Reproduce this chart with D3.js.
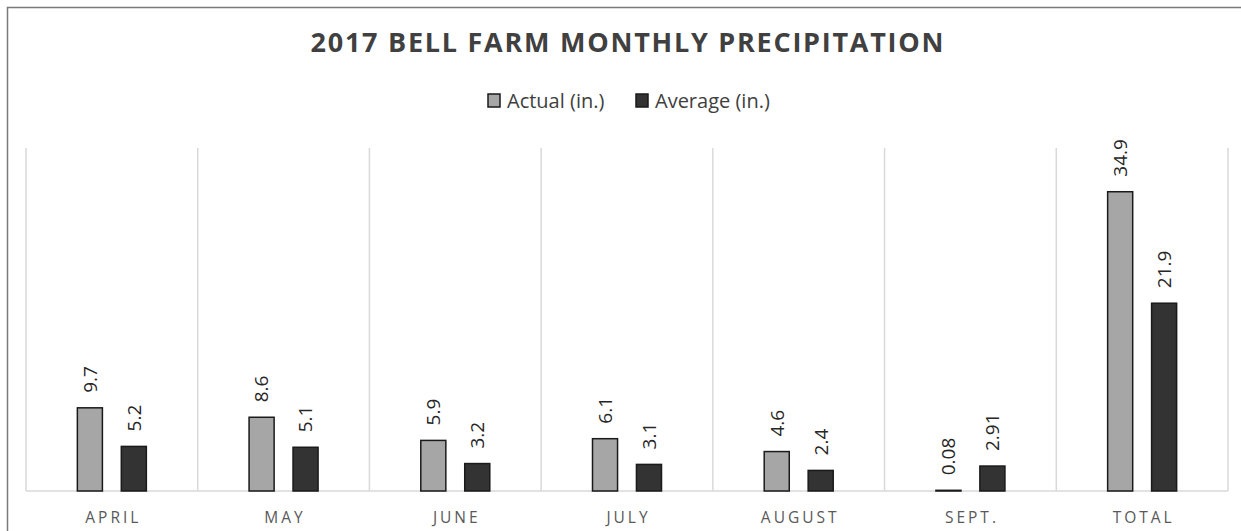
<!DOCTYPE html>
<html>
<head>
<meta charset="utf-8">
<script src="https://cdn.jsdelivr.net/npm/d3@7"></script>
<style>
  html, body { margin: 0; padding: 0; background: #fff; }
  svg { display: block; }
  text { font-family: "Open Sans", "Noto Sans", sans-serif; }
</style>
</head>
<body>
<svg id="chart" width="1241" height="531"></svg>
<script>
const categories = ["APRIL", "MAY", "JUNE", "JULY", "AUGUST", "SEPT.", "TOTAL"];
const seriesNames = ["Actual (in.)", "Average (in.)"];
const actualValues = [9.7, 8.6, 5.9, 6.1, 4.6, 0.08, 34.9];
const averageValues = [5.2, 5.1, 3.2, 3.1, 2.4, 2.91, 21.9];
const actualLabels = ["9.7", "8.6", "5.9", "6.1", "4.6", "0.08", "34.9"];
const averageLabels = ["5.2", "5.1", "3.2", "3.1", "2.4", "2.91", "21.9"];
const yDomain = [0, 40];
const titleText = "2017 BELL FARM MONTHLY PRECIPITATION";

const colors = { "Actual (in.)": "#a6a6a6", "Average (in.)": "#333333" };

const svg = d3.select("#chart");

// outer border (only top/left visible)
svg.append("rect")
  .attr("x", 7.5).attr("y", 7.5)
  .attr("width", 1400).attr("height", 700)
  .attr("fill", "none").attr("stroke", "#7a7a7a").attr("stroke-width", 1.5);

const plot = { left: 26, right: 1228, top: 148, bottom: 491 };

const x0 = d3.scaleBand().domain(categories).range([plot.left, plot.right]).padding(0);
const bw = x0.bandwidth();
const x1 = d3.scaleBand().domain(seriesNames)
  .range([bw / 2 - 34.5, bw / 2 + 34.5]).paddingInner(0.43).paddingOuter(0);
const y = d3.scaleLinear().domain(yDomain).range([plot.bottom, plot.top]);

// vertical gridlines at band boundaries
const bounds = categories.map(c => x0(c)).concat([plot.right]);
svg.append("g").selectAll("line").data(bounds).join("line")
  .attr("x1", d => d).attr("x2", d => d)
  .attr("y1", plot.top).attr("y2", plot.bottom)
  .attr("stroke", "#d9d9d9").attr("stroke-width", 1.5);

// baseline axis
const xAxis = d3.axisBottom(x0).tickSize(0).tickPadding(0);
const axisG = svg.append("g").attr("transform", `translate(0,${plot.bottom})`).call(xAxis);
axisG.select(".domain").attr("stroke", "#d9d9d9").attr("stroke-width", 1.5)
  .attr("d", `M${plot.left},0H${plot.right}`);
axisG.selectAll(".tick text")
  .attr("y", 32).attr("dy", 0)
  .attr("fill", "#595959")
  .style("font-size", "15.5px")
  .style("letter-spacing", "3px")
  .attr("dx", "1.5px");

// data
const rows = categories.map((c, i) => ({
  cat: c,
  vals: [
    { s: seriesNames[0], v: actualValues[i], label: actualLabels[i] },
    { s: seriesNames[1], v: averageValues[i], label: averageLabels[i] }
  ]
}));

const groups = svg.append("g").selectAll("g").data(rows).join("g")
  .attr("transform", d => `translate(${x0(d.cat)},0)`);

groups.selectAll("rect").data(d => d.vals).join("rect")
  .attr("x", d => x1(d.s))
  .attr("y", d => y(d.v))
  .attr("width", x1.bandwidth())
  .attr("height", d => y(0) - y(d.v))
  .attr("fill", d => colors[d.s])
  .attr("stroke", "#1a1a1a")
  .attr("stroke-width", 1.5);

groups.selectAll("text.lbl").data(d => d.vals).join("text")
  .attr("class", "lbl")
  .attr("transform", d => `translate(${x1(d.s) + x1.bandwidth() / 2},${y(d.v) - 15}) rotate(-90)`)
  .attr("dy", "0.36em")
  .attr("text-anchor", "start")
  .attr("fill", "#262626")
  .style("font-size", "19px")
  .text(d => d.label);

// title
svg.append("text")
  .attr("x", 627).attr("y", 52)
  .attr("text-anchor", "middle")
  .attr("fill", "#404040")
  .style("font-size", "27px")
  .style("font-weight", "700")
  .attr("textLength", 633)
  .attr("lengthAdjust", "spacing")
  .text(titleText);

// legend
const legendItems = [
  { name: seriesNames[0], sx: 488, tx: 507 },
  { name: seriesNames[1], sx: 636, tx: 655 }
];
const lg = svg.append("g");
lg.selectAll("rect").data(legendItems).join("rect")
  .attr("x", d => d.sx).attr("y", 94)
  .attr("width", 12).attr("height", 13)
  .attr("fill", d => colors[d.name])
  .attr("stroke", "#1a1a1a").attr("stroke-width", 1.5);
lg.selectAll("text").data(legendItems).join("text")
  .attr("x", d => d.tx).attr("y", 108)
  .attr("fill", "#404040")
  .style("font-size", "20px")
  .text(d => d.name);
</script>
</body>
</html>
